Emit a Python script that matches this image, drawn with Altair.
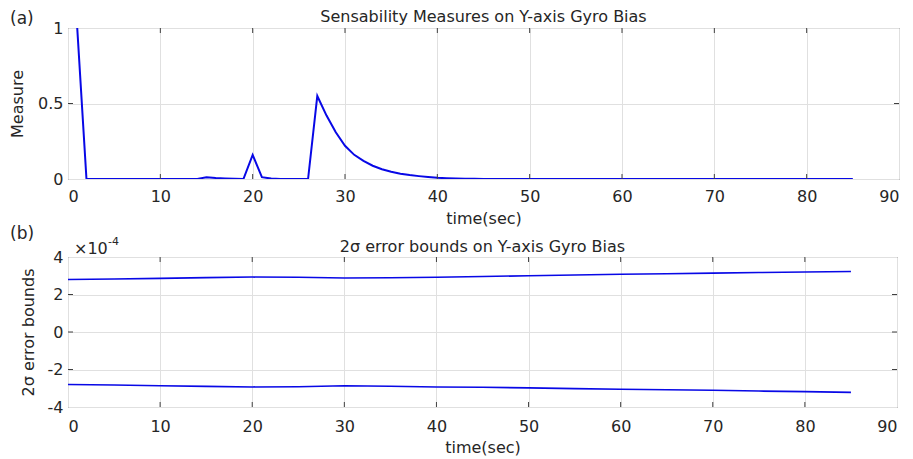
import altair as alt
import pandas as pd

# ---------------- data ----------------
time_a = list(range(1, 86))
measure = [
    1.0, 0.0, 0.0, 0.0, 0.0, 0.0, 0.0, 0.0, 0.0, 0.0,        # t = 1..10
    0.0, 0.0, 0.0, 0.0, 0.012, 0.007, 0.004, 0.002, 0.0, 0.16,  # t = 11..20
    0.012, 0.003, 0.0, 0.0, 0.0, 0.0, 0.55, 0.42, 0.31, 0.22,  # t = 21..30
    0.16, 0.12, 0.088, 0.065, 0.048, 0.035, 0.026, 0.019, 0.013, 0.008,  # 31..40
    0.005, 0.003, 0.002, 0.001, 0.0, 0.0, 0.0, 0.0, 0.0, 0.0,  # 41..50
    0.0, 0.0, 0.0, 0.0, 0.0, 0.0, 0.0, 0.0, 0.0, 0.0,        # 51..60
    0.0, 0.0, 0.0, 0.0, 0.0, 0.0, 0.0, 0.0, 0.0, 0.0,        # 61..70
    0.0, 0.0, 0.0, 0.0, 0.0, 0.0, 0.0, 0.0, 0.0, 0.0,        # 71..80
    0.0, 0.0, 0.0, 0.0, 0.0,                                 # 81..85
]

time_b = [0, 5, 10, 15, 20, 25, 30, 35, 40, 45, 50, 55, 60, 65, 70, 75, 80, 85]
upper_e4 = [2.80, 2.83, 2.86, 2.90, 2.93, 2.92, 2.88, 2.89, 2.92, 2.96,
            3.00, 3.04, 3.08, 3.11, 3.14, 3.17, 3.20, 3.23]
lower_e4 = [-2.80, -2.83, -2.87, -2.90, -2.93, -2.92, -2.87, -2.89, -2.93, -2.95,
            -2.98, -3.02, -3.05, -3.08, -3.11, -3.15, -3.18, -3.22]

x_ticks = [0, 10, 20, 30, 40, 50, 60, 70, 80, 90]
x_inner_ticks = [10, 20, 30, 40, 50, 60, 70, 80]
ya_ticks = [0, 0.5, 1]
ya_inner_ticks = [0.5]
yb_ticks = [-4, -2, 0, 2, 4]
yb_inner_ticks = [-2, 0, 2]

title_a = "Sensability Measures on Y-axis Gyro Bias"
title_b = "2σ error bounds on Y-axis Gyro Bias"

# ---------------- style ----------------
FONT = "DejaVu Sans"
TXT = "#262626"
BOX = "#404040"
BLUE = "#0808e6"
W_A, H_A = 831, 151
W_B, H_B = 829, 150

df_a = pd.DataFrame({"t": time_a, "v": measure})
df_b = pd.concat([
    pd.DataFrame({"t": time_b, "v": upper_e4, "s": "upper"}),
    pd.DataFrame({"t": time_b, "v": lower_e4, "s": "lower"}),
])


def txt(text, x, y, size, align="left"):
    return alt.Chart(pd.DataFrame({"s": [text]})).mark_text(
        align=align, baseline="middle", font=FONT, fontSize=size, color=TXT
    ).encode(x=alt.value(x), y=alt.value(y), text="s:N")


def panel(df, line_w, xdom, ydom, yvals, y_inner, W, H, ytitle, ytitle_x,
          xlabel_pad, xtitle_y, extra):
    xenc = alt.X("t:Q", scale=alt.Scale(domain=xdom, nice=False),
                 axis=alt.Axis(values=x_ticks, title="time(sec)",
                               labelExpr="toString(datum.value)",
                               labelPadding=xlabel_pad, titleX=W / 2, titleY=xtitle_y,
                               titleBaseline="middle", titleAlign="center"))
    yenc = alt.Y("v:Q", scale=alt.Scale(domain=ydom, nice=False),
                 axis=alt.Axis(values=yvals, title=ytitle,
                               labelExpr="toString(datum.value)",
                               labelPadding=5, titleX=ytitle_x, titleY=H / 2, titleAngle=270,
                               titleBaseline="middle", titleAlign="center"))
    enc = dict(x=xenc, y=yenc)
    if "s" in df.columns:
        enc["detail"] = "s:N"
    line = alt.Chart(df).mark_line(color=BLUE, strokeWidth=line_w, clip=True).encode(**enc)
    dx = pd.DataFrame({"t": x_inner_ticks})
    dy = pd.DataFrame({"v": y_inner})
    rx = alt.Chart(dx).mark_rule(color=BOX, strokeWidth=1)
    ry = alt.Chart(dy).mark_rule(color=BOX, strokeWidth=1)
    layers = [
        line,
        rx.encode(x=xenc, y=alt.value(H), y2=alt.value(H - 5)),
        rx.encode(x=xenc, y=alt.value(0), y2=alt.value(5)),
        ry.encode(y=yenc, x=alt.value(0), x2=alt.value(5)),
        ry.encode(y=yenc, x=alt.value(W - 5), x2=alt.value(W)),
    ] + extra
    return alt.layer(*layers).properties(width=W, height=H)


panel_a = panel(
    df_a, 2, [0, 90], [0, 1], ya_ticks, ya_inner_ticks, W_A, H_A,
    "Measure", -51, 9, 39,
    [txt(title_a, W_A / 2, -11, 16, align="center"), txt("(a)", -58, -9, 17)],
)

panel_b = panel(
    df_b, 1.6, [0, 90], [-4, 4], yb_ticks, yb_inner_ticks, W_B, H_B,
    "2σ error bounds", -40, 11, 40,
    [txt(title_b, W_B / 2, -10, 16, align="center"), txt("(b)", -58, -23, 17),
     txt("×10", 6, -8, 16), txt("-4", 40, -15, 11)],
)

chart = alt.vconcat(panel_a, panel_b, spacing=78, bounds="flush").configure(
    padding={"left": 0, "top": 0, "right": 0, "bottom": 0},
    background="white",
).configure_view(
    stroke=BOX, strokeWidth=1
).configure_axis(
    grid=True, gridColor="#e0e0e0", gridWidth=1,
    domain=False, ticks=False,
    labelFont=FONT, labelFontSize=16, labelColor=TXT,
    titleFont=FONT, titleFontSize=16, titleColor=TXT, titleFontWeight="normal",
)

chart.save("out.html", embed_options={"renderer": "svg", "actions": False})
